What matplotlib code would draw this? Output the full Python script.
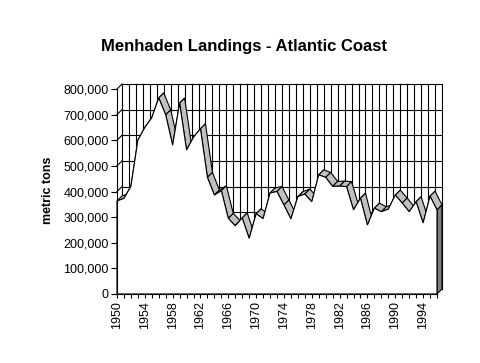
import numpy as np
import matplotlib.pyplot as plt
from matplotlib.patches import Polygon
from matplotlib.ticker import FuncFormatter, MultipleLocator

plt.rcParams['font.family'] = ['Liberation Sans', 'DejaVu Sans']

years = list(range(1950, 1997))
landings = [363000, 373000, 420000, 600000, 650000, 688000, 765000, 699000, 581000, 745000,
            562000, 612000, 645000, 455000, 386000, 403000, 295000, 266000, 297000, 217000,
            313000, 294000, 394000, 400000, 347000, 293000, 380000, 390000, 360000, 465000,
            455000, 420000, 421000, 419000, 328000, 374000, 269000, 335000, 321000, 331000,
            386000, 355000, 321000, 360000, 277000, 382000, 328000]
y_ticks = list(range(0, 800001, 100000))
title = 'Menhaden Landings - Atlantic Coast'
y_label = 'metric tons'

W, H = 481, 363
fig = plt.figure(figsize=(W / 100, H / 100), dpi=100)
# front face of the plot: x 117..437 px, y 294..89 px
ax = fig.add_axes([117 / W, (H - 294) / H, 320 / W, 205 / H])
x0, x1 = years[0], years[-1]
ymax = 800000
ax.set_xlim(x0, x1)
ax.set_ylim(0, ymax)

# depth offset of the 3d look, 5 px right and 5 px up
dx = 5 * (x1 - x0) / 320
dy = 5 * ymax / 205
lw = 0.8

# back wall
for yr in years:
    ax.plot([yr + dx, yr + dx], [dy, ymax + dy], color='black', lw=lw, clip_on=False, zorder=1)
for v in y_ticks:
    ax.plot([x0 + dx, x1 + dx], [v + dy, v + dy], color='black', lw=lw, clip_on=False, zorder=1)
    ax.plot([x0, x0 + dx], [v, v + dy], color='black', lw=lw, clip_on=False, zorder=1)

# top surface of the area
for i in range(len(years) - 1):
    xa, xb = years[i], years[i + 1]
    ya, yb = landings[i], landings[i + 1]
    quad = Polygon([(xa, ya), (xb, yb), (xb + dx, yb + dy), (xa + dx, ya + dy)],
                   closed=True, facecolor='#c0c0c0', edgecolor='black', lw=lw,
                   clip_on=False, zorder=2)
    ax.add_patch(quad)

# right end face
side = Polygon([(x1, 0), (x1, landings[-1]), (x1 + dx, landings[-1] + dy), (x1 + dx, dy)],
               closed=True, facecolor='#808080', edgecolor='black', lw=lw,
               clip_on=False, zorder=2)
ax.add_patch(side)

# front face
front = [(x0, 0)] + list(zip(years, landings)) + [(x1, 0)]
ax.add_patch(Polygon(front, closed=True, facecolor='white', edgecolor='black', lw=lw,
                     clip_on=False, zorder=3))

for s in ['top', 'right']:
    ax.spines[s].set_visible(False)
for s in ['left', 'bottom']:
    ax.spines[s].set_linewidth(lw)
    ax.spines[s].set_zorder(4)

ax.set_yticks(y_ticks)
ax.yaxis.set_major_formatter(FuncFormatter(lambda v, p: f'{int(v):,}'))
ax.tick_params(axis='y', direction='out', length=4, width=lw, pad=2, labelsize=9)

ax.set_xticks(years[::4])
ax.set_xticklabels([str(y) for y in years[::4]], rotation=90)
ax.xaxis.set_minor_locator(MultipleLocator(1))
ax.tick_params(axis='x', which='both', direction='out', length=3, width=lw, pad=2, labelsize=9)

fig.text(244 / W, 1 - 47 / H, title, ha='center', va='center', fontsize=12, fontweight='bold')
fig.text(48 / W, 1 - 190 / H, y_label, ha='center', va='center', rotation=90,
         fontsize=9, fontweight='bold')

fig.savefig('out.png', dpi=100, facecolor='white')
